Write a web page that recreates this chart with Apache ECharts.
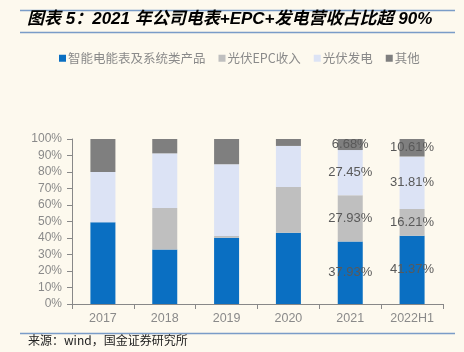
<!DOCTYPE html>
<html><head><meta charset="utf-8">
<script src="https://cdn.jsdelivr.net/npm/echarts@6/dist/echarts.min.js"></script>
<style>html,body{margin:0;padding:0;background:#fdf9ee;}#c{width:464px;height:352px;}</style>
</head><body><div id="c"></div>
<script>
const categories = ['2017','2018','2019','2020','2021','2022H1'];
const meterValues = [49.5, 33.1, 40.2, 43.2, 37.93, 41.37];
const epcValues = [0, 25.1, 1.0, 27.7, 27.93, 16.21];
const pvValues = [30.5, 33.1, 43.5, 24.9, 27.45, 31.81];
const otherValues = [20.0, 8.7, 15.3, 4.2, 6.68, 10.61];
const seriesNames = ['智能电能表及系统类产品','光伏EPC收入','光伏发电','其他'];
const labeledFrom = 4;

const chart = echarts.init(document.getElementById('c'));
const colors = ['#0a6fc2','#bfbfbf','#dce3f5','#7f7f7f'];
function mk(name, vals, color){
  return {
    name, type:'bar', stack:'s', barWidth:25,
    itemStyle:{color},
    data: vals.map((v,i)=>({value:v, label:{show:i>=labeledFrom}})),
    label:{show:false, position:'inside', color:'#595959', fontSize:13,
      fontFamily:'Liberation Sans, Arial', formatter:p=>p.value.toFixed(2)+'%'}
  };
}
chart.setOption({
  backgroundColor:'#fdf9ee',
  animation:false,
  title:{text:'图表 5：2021 年公司电表+EPC+发电营收占比超 90%', left:27, top:11, padding:0,
    textStyle:{fontSize:17, fontWeight:'bold', fontStyle:'italic', color:'#000',
    fontFamily:'Liberation Sans, Noto Sans CJK SC'}},
  legend:{top:47, left:54, itemWidth:7, itemHeight:7, itemGap:13, icon:'rect',
    textStyle:{color:'#8a8a8a', fontSize:12.5, padding:[0,0,0,-3], fontFamily:'Noto Sans CJK SC'},
    data:seriesNames},
  grid:{left:72, right:21, top:139, bottom:48},
  xAxis:{type:'category', data:categories,
    axisLine:{lineStyle:{color:'#888'}}, axisTick:{show:true, lineStyle:{color:'#888'}},
    axisLabel:{color:'#8a8a8a', fontSize:12.5, margin:8, fontFamily:'Liberation Sans, Arial'}},
  yAxis:{type:'value', min:0, max:100, interval:10,
    axisLine:{show:true, lineStyle:{color:'#888'}}, axisTick:{show:true, lineStyle:{color:'#888'}},
    splitLine:{show:false},
    axisLabel:{color:'#8a8a8a', fontSize:12, margin:10, formatter:'{value}%', fontFamily:'Liberation Sans, Arial'}},
  series:[
    mk(seriesNames[0], meterValues, colors[0]),
    mk(seriesNames[1], epcValues, colors[1]),
    mk(seriesNames[2], pvValues, colors[2]),
    mk(seriesNames[3], otherValues, colors[3])
  ],
  graphic:[
    {type:'line', shape:{x1:20,y1:10.5,x2:455,y2:10.5}, style:{stroke:'#7a9cc8', lineWidth:1.5}},
    {type:'line', shape:{x1:20,y1:32.5,x2:455,y2:32.5}, style:{stroke:'#7a9cc8', lineWidth:1.5}},
    {type:'line', shape:{x1:20,y1:333.5,x2:455,y2:333.5}, style:{stroke:'#7a9cc8', lineWidth:1.5}},
    {type:'text', left:28, top:334, style:{text:'来源：wind，国金证券研究所', fill:'#222', fontSize:12, fontFamily:'Noto Sans CJK SC'}}
  ]
});
</script></body></html>
